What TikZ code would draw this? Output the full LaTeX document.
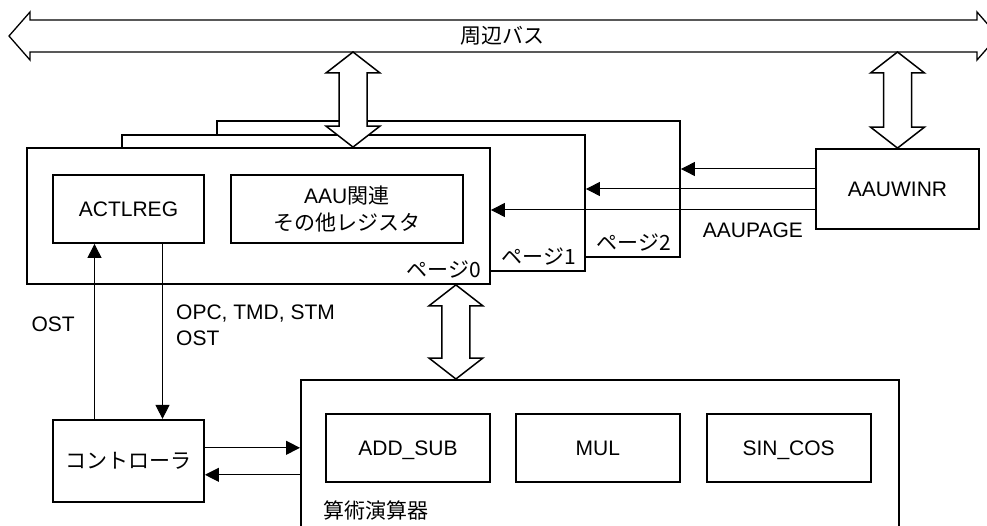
\documentclass[tikz,border=0pt]{standalone}
\usepackage{fontspec}
\setmainfont{Liberation Sans}
\newfontfamily\jpfont{Noto Sans CJK JP}
\usetikzlibrary{arrows.meta, positioning, calc}

% fat double arrow between a top point and a bottom point
\newcommand{\fatarrow}[2]{%
  \draw[fat] let \p1=(#1), \p2=(#2) in
    (\x1,\y1) -- (\x1-27pt,\y1-21pt) -- (\x1-14pt,\y1-21pt) -- (\x1-14pt,\y2+21pt)
    -- (\x1-27pt,\y2+21pt) -- (\x1,\y2) -- (\x1+27pt,\y2+21pt) -- (\x1+14pt,\y2+21pt)
    -- (\x1+14pt,\y1-21pt) -- (\x1+27pt,\y1-21pt) -- cycle;
}

\begin{document}
\begin{tikzpicture}[
  x=1pt, y=-1pt,
  font=\fontsize{21}{26}\selectfont,
  box/.style={draw, line width=1.8pt, inner sep=0pt, text centered},
  regbox/.style={box, minimum width=151pt, minimum height=68pt},
  unitbox/.style={box, minimum width=164pt, minimum height=68pt, text depth=0pt},
  pagebox/.style={box, fill=white, minimum width=463pt, minimum height=136pt},
  lbl/.style={inner sep=0pt},
  sig/.style={-{Triangle[length=14pt, width=14pt]}, line width=1pt},
  fat/.style={draw, fill=white, line width=1.5pt, line join=miter},
]
\useasboundingbox (0,0) rectangle (987,526);

% Bus
\draw[fat, line width=1.3pt] (9,36) -- (30,12) -- (30,20) -- (977,20) -- (977,12) -- (998,36)
  -- (977,60) -- (977,52) -- (30,52) -- (30,60) -- cycle;
\node[lbl] (bus) at (502,36) {\jpfont 周辺バス};

% Pages
\foreach \n/\cx/\cy in {2/448.5/189, 1/353.5/203, 0/258.5/216}{
  \node[pagebox] (page\n) at (\cx,\cy) {};
  \node[lbl, anchor=south east] at ([shift={(-10,-6)}]page\n.south east) {\jpfont ページ\n};
}

% Registers
\node[regbox] (actlreg) at (128.5,209) {ACTLREG};
\node[regbox, minimum width=232pt, right=25pt of actlreg, align=center] (regs)
  {AAU{\jpfont 関連}\\[1pt]{\jpfont その他レジスタ}};

% Window register
\node[box, minimum width=163pt, minimum height=80pt] (winr) at (897.5,189) {AAUWINR};
\node[lbl, left=12pt of winr.south west] (aaupage) {AAUPAGE};

% Controller and arithmetic unit
\node[regbox, minimum height=82pt, below=175pt of actlreg] (ctrl) {\jpfont コントローラ};
\node[box, anchor=north west, minimum width=598pt, minimum height=200pt] (arith) at (300,379) {};
\node[unitbox] (addsub) at (408,448) {ADD\_SUB};
\node[unitbox, right=24pt of addsub] (mul) {MUL};
\node[unitbox, right=25pt of mul] (sincos) {SIN\_COS};
\node[lbl, anchor=west] (arithlbl) at ([shift={(23,131)}]arith.north west) {\jpfont 算術演算器};

% Fat bus arrows
\coordinate (b1) at (353,52);
\fatarrow{b1}{b1 |- page0.north}
\fatarrow{winr.north |- b1}{winr.north}
\coordinate (b3) at ([xshift=-35pt]page0.south east);
\fatarrow{b3}{b3 |- arith.north}

% AAUWINR -> pages
\foreach \dy/\pg in {20/page2, 0/page1, -21/page0}{
  \coordinate (w) at ([yshift=\dy pt]winr.west);
  \draw[sig] (w) -- (w -| \pg.east);
}

% Controller <-> ACTLREG
\coordinate (u1) at ([xshift=-34pt]ctrl.north);
\draw[sig] (u1) -- (u1 |- actlreg.south);
\coordinate (d1) at ([xshift=34pt]actlreg.south);
\draw[sig] (d1) -- (d1 |- ctrl.north);
\node[lbl, anchor=east] (ostup) at (75,324) {OST};
\node[lbl, anchor=north west, align=left] (ostdown) at (176,305) {OPC, TMD, STM\\OST};

% Controller <-> arithmetic unit
\coordinate (c1) at ([yshift=13pt]ctrl.east);
\draw[sig] (c1) -- (c1 -| arith.west);
\coordinate (c2) at ([yshift=-14pt]ctrl.east);
\draw[sig] (c2 -| arith.west) -- (c2);
\end{tikzpicture}
\end{document}
